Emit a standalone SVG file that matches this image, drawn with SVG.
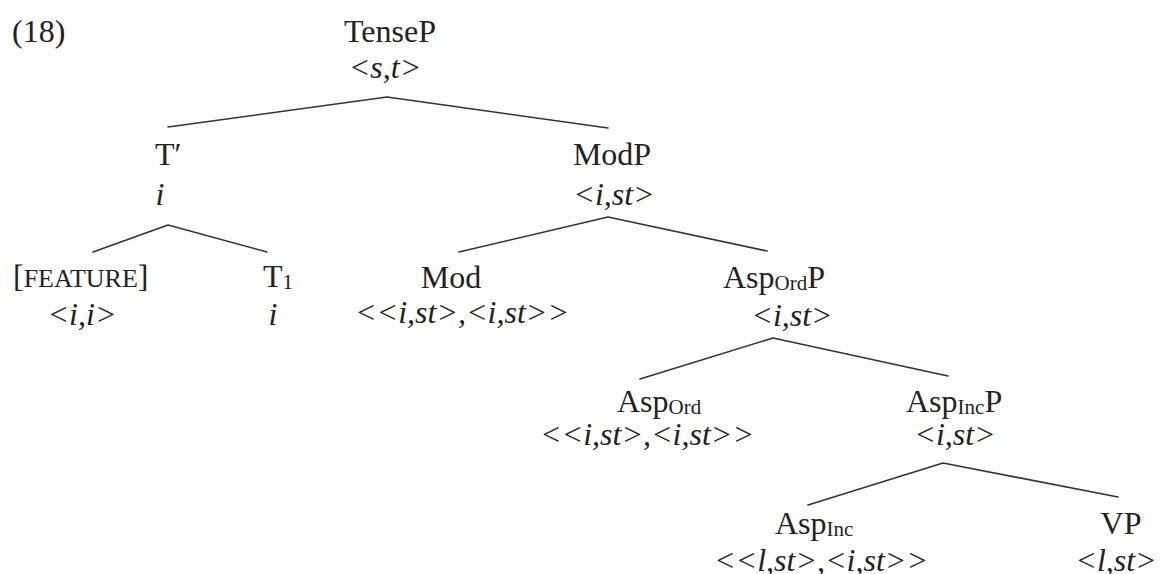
<svg xmlns="http://www.w3.org/2000/svg" width="1160" height="574" viewBox="0 0 1160 574">
<style>
text{font-family:"Liberation Serif","Times New Roman",serif;font-size:32px;fill:#222}
.c{text-anchor:middle}
.it{font-style:italic}
.sub{font-size:21px}
.sc{font-size:26px}
.ln{stroke:#333;stroke-width:1.6;fill:none;stroke-linecap:round;stroke-linejoin:round}
</style>
<rect width="1160" height="574" fill="#fff"/>
<text x="12" y="42">(18)</text>
<g id="connectors">
<polyline class="ln" points="168,127 387,97 608,128"/>
<polyline class="ln" points="93,252 168,225 267,252"/>
<polyline class="ln" points="459,252 608,217 767,251"/>
<polyline class="ln" points="640,379 773,338 948,376"/>
<polyline class="ln" points="808,505 943,463 1118,497"/>
</g>
<g id="TenseP"><text class="c" x="390" y="42">TenseP</text><text class="c it" x="385" y="78">&lt;s,t&gt;</text></g>
<g id="Tbar"><text x="155" y="165">T′</text><text class="c it" x="160" y="205">i</text></g>
<g id="ModP"><text class="c" x="612" y="165">ModP</text><text class="c it" x="614" y="205">&lt;i,st&gt;</text></g>
<g id="FEATURE"><text x="13" y="287">[<tspan class="sc">FEATURE</tspan>]</text><text class="c it" x="82" y="325">&lt;i,i&gt;</text></g>
<g id="T1"><text x="263" y="287">T<tspan class="sub" dy="2">1</tspan></text><text class="c it" x="273" y="325">i</text></g>
<g id="Mod"><text class="c" x="451" y="288">Mod</text><text class="c it" x="462" y="323">&lt;&lt;i,st&gt;,&lt;i,st&gt;&gt;</text></g>
<g id="AspOrdP"><text x="723" y="288">Asp<tspan class="sub" dy="2">Ord</tspan><tspan dy="-2">P</tspan></text><text class="c it" x="792" y="326">&lt;i,st&gt;</text></g>
<g id="AspOrd"><text x="617" y="412">Asp<tspan class="sub" dy="2">Ord</tspan></text><text class="c it" x="647" y="445">&lt;&lt;i,st&gt;,&lt;i,st&gt;&gt;</text></g>
<g id="AspIncP"><text x="906" y="412">Asp<tspan class="sub" dy="2">Inc</tspan><tspan dy="-2">P</tspan></text><text class="c it" x="955" y="445">&lt;i,st&gt;</text></g>
<g id="AspInc"><text x="775" y="534">Asp<tspan class="sub" dy="2">Inc</tspan></text><text class="c it" x="821" y="571">&lt;&lt;l,st&gt;,&lt;i,st&gt;&gt;</text></g>
<g id="VP"><text class="c" x="1121" y="534">VP</text><text class="c it" x="1116" y="571">&lt;l,st&gt;</text></g>
</svg>
